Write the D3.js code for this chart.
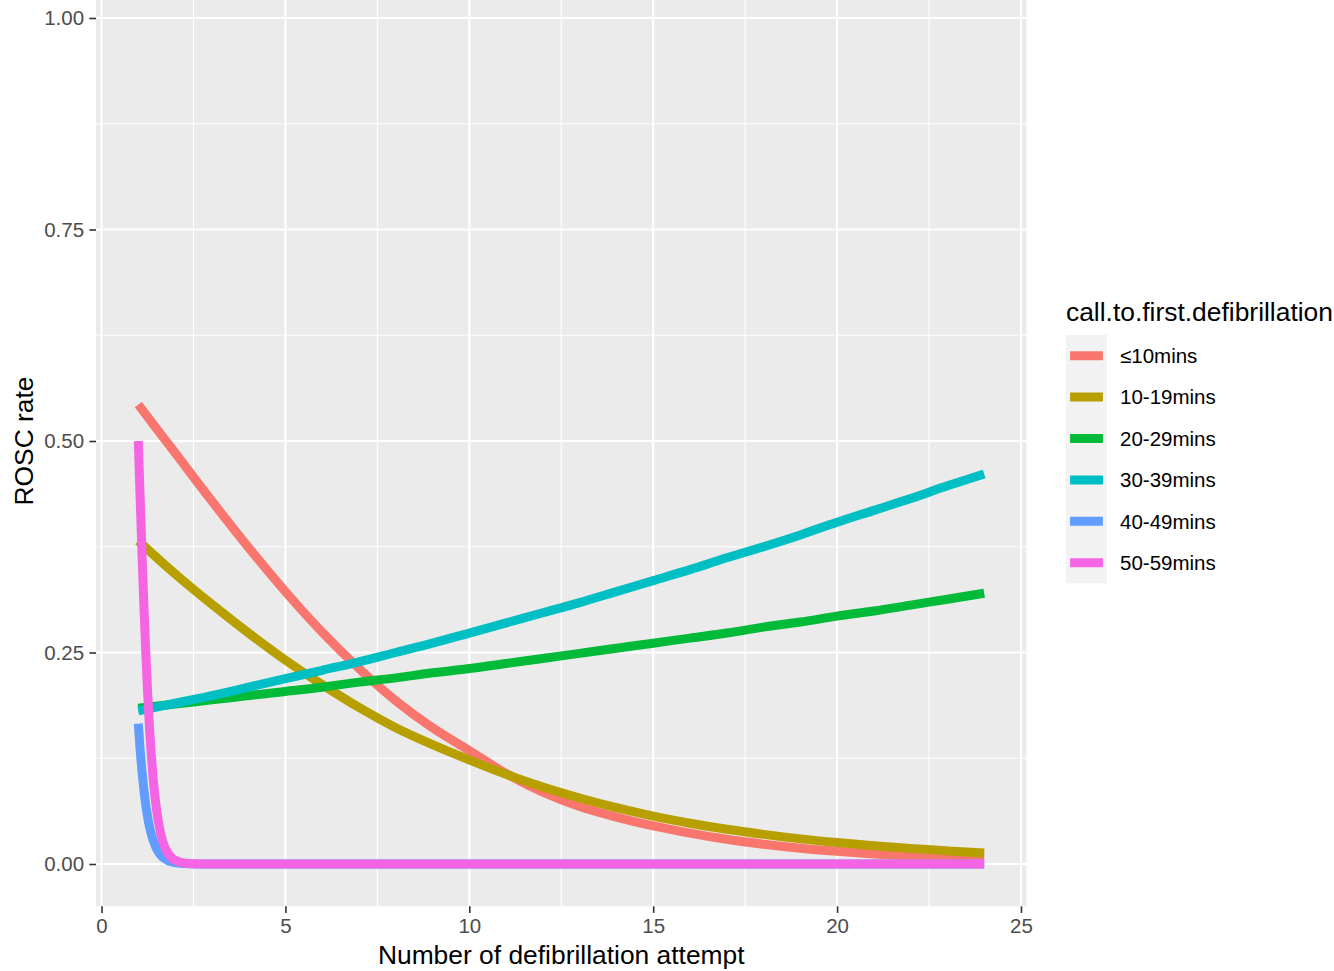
<!DOCTYPE html>
<html>
<head>
<meta charset="utf-8">
<script src="https://cdn.jsdelivr.net/npm/d3@7"></script>
<style>
  html, body { margin: 0; padding: 0; background: #ffffff; }
  svg { display: block; font-family: "Liberation Sans", Arial, Helvetica, sans-serif; }
</style>
</head>
<body>
<svg id="chart" width="1334" height="971"></svg>
<script>
// Defibrillation attempt number (x) for the smoothly varying groups
const attempts = [1, 2, 3, 4, 5, 6, 7, 8, 9, 10, 11, 12, 13, 14, 15, 16, 17, 18, 19, 20, 21, 22, 23, 24];

// Denser attempt grid for the groups that collapse between attempts 1 and 2
const attemptsFine = [1, 1.05, 1.1, 1.15, 1.2, 1.25, 1.3, 1.35, 1.4, 1.5, 1.6, 1.7, 1.8, 1.9, 2, 2.25, 2.5, 3,
  4, 5, 6, 7, 8, 9, 10, 11, 12, 13, 14, 15, 16, 17, 18, 19, 20, 21, 22, 23, 24];

// Predicted ROSC rate by call-to-first-defibrillation interval
const roscUpTo10 = [0.543, 0.486, 0.429, 0.374, 0.322, 0.274, 0.231, 0.193, 0.161, 0.134, 0.107, 0.085, 0.068,
  0.0555, 0.0450, 0.0365, 0.0292, 0.0234, 0.0187, 0.0150, 0.0119, 0.0095, 0.0076, 0.0061];
const rosc10to19 = [0.382, 0.343, 0.307, 0.273, 0.241, 0.212, 0.185, 0.161, 0.141, 0.123, 0.106, 0.091, 0.078,
  0.0665, 0.0566, 0.0482, 0.0410, 0.0350, 0.0297, 0.0253, 0.0215, 0.0182, 0.0155, 0.0131];
const rosc20to29 = [0.184, 0.189, 0.194, 0.199, 0.204, 0.209, 0.215, 0.220, 0.226, 0.231, 0.237, 0.243, 0.249,
  0.255, 0.261, 0.267, 0.273, 0.280, 0.286, 0.293, 0.299, 0.306, 0.313, 0.320];
const rosc30to39 = [0.181, 0.190, 0.199, 0.209, 0.219, 0.229, 0.239, 0.250, 0.261, 0.273, 0.285, 0.297, 0.309,
  0.322, 0.335, 0.348, 0.362, 0.375, 0.389, 0.404, 0.418, 0.432, 0.447, 0.461];
const rosc40to49 = [0.166, 0.135, 0.110, 0.0884, 0.0708, 0.0565, 0.0450, 0.0358, 0.0284, 0.0178, 0.0110, 0.0069,
  0.0043, 0.0026, 0.0016, 0.0005, 0.0001, 0,
  0, 0, 0, 0, 0, 0, 0, 0, 0, 0, 0, 0, 0, 0, 0, 0, 0, 0, 0, 0, 0];
const rosc50to59 = [0.500, 0.433, 0.368, 0.308, 0.254, 0.206, 0.165, 0.131, 0.103, 0.063, 0.0377, 0.0223,
  0.0131, 0.0077, 0.0045, 0.0012, 0.0003, 0,
  0, 0, 0, 0, 0, 0, 0, 0, 0, 0, 0, 0, 0, 0, 0, 0, 0, 0, 0, 0, 0];

const groupLabels = ["\u226410mins", "10-19mins", "20-29mins", "30-39mins", "40-49mins", "50-59mins"];
const groupColors = ["#F8766D", "#B79F00", "#00BA38", "#00BFC4", "#619CFF", "#F564E3"];

const xTicks = [0, 5, 10, 15, 20, 25];
const yTicks = [0, 0.25, 0.5, 0.75, 1];
const xMinor = [2.5, 7.5, 12.5, 17.5, 22.5];
const yMinor = [0.125, 0.375, 0.625, 0.875];

const legendTitle = "call.to.first.defibrillation";
const xTitle = "Number of defibrillation attempt";
const yTitle = "ROSC rate";

// Smooth groups use a Catmull-Rom spline; the steep ones a monotone spline (no overshoot below 0)
const series = [
  { label: groupLabels[0], color: groupColors[0], xs: attempts, ys: roscUpTo10, curve: d3.curveCatmullRom },
  { label: groupLabels[1], color: groupColors[1], xs: attempts, ys: rosc10to19, curve: d3.curveCatmullRom },
  { label: groupLabels[2], color: groupColors[2], xs: attempts, ys: rosc20to29, curve: d3.curveCatmullRom },
  { label: groupLabels[3], color: groupColors[3], xs: attempts, ys: rosc30to39, curve: d3.curveCatmullRom },
  { label: groupLabels[4], color: groupColors[4], xs: attemptsFine, ys: rosc40to49, curve: d3.curveMonotoneX },
  { label: groupLabels[5], color: groupColors[5], xs: attemptsFine, ys: rosc50to59, curve: d3.curveMonotoneX }
];

const svg = d3.select("#chart");
const panel = { left: 96, right: 1026.5, top: -24.3, bottom: 906.3 };

// 5% expansion of the attempt range; fixed [0, 1] rate limits, also expanded 5%
const xExt = d3.extent(attempts);
const xPad = (xExt[1] - xExt[0]) * 0.05;
const x = d3.scaleLinear().domain([xExt[0] - xPad, xExt[1] + xPad]).range([panel.left, panel.right]);
const y = d3.scaleLinear().domain([-0.05, 1.05]).range([panel.bottom, panel.top]);

svg.append("defs").append("clipPath").attr("id", "panel-clip")
  .append("rect")
  .attr("x", panel.left).attr("y", panel.top)
  .attr("width", panel.right - panel.left).attr("height", panel.bottom - panel.top);

// Panel background
svg.append("rect")
  .attr("x", panel.left).attr("y", panel.top)
  .attr("width", panel.right - panel.left).attr("height", panel.bottom - panel.top)
  .attr("fill", "#EBEBEB");

const grid = svg.append("g");
// Minor grid
grid.selectAll("line.vminor").data(xMinor).join("line")
  .attr("x1", d => x(d)).attr("x2", d => x(d))
  .attr("y1", panel.top).attr("y2", panel.bottom)
  .attr("stroke", "#ffffff").attr("stroke-width", 1.1);
grid.selectAll("line.hminor").data(yMinor).join("line")
  .attr("y1", d => y(d)).attr("y2", d => y(d))
  .attr("x1", panel.left).attr("x2", panel.right)
  .attr("stroke", "#ffffff").attr("stroke-width", 1.1);
// Major grid
grid.selectAll("line.vmajor").data(xTicks).join("line")
  .attr("x1", d => x(d)).attr("x2", d => x(d))
  .attr("y1", panel.top).attr("y2", panel.bottom)
  .attr("stroke", "#ffffff").attr("stroke-width", 2.2);
grid.selectAll("line.hmajor").data(yTicks).join("line")
  .attr("y1", d => y(d)).attr("y2", d => y(d))
  .attr("x1", panel.left).attr("x2", panel.right)
  .attr("stroke", "#ffffff").attr("stroke-width", 2.2);

// Curves
const curves = svg.append("g").attr("clip-path", "url(#panel-clip)");
series.forEach(s => {
  const pts = s.xs.map((v, i) => [v, s.ys[i]]);
  const lineGen = d3.line()
    .x(d => x(d[0]))
    .y(d => y(d[1]))
    .curve(s.curve);
  curves.append("path")
    .attr("d", lineGen(pts))
    .attr("fill", "none")
    .attr("stroke", s.color)
    .attr("stroke-width", 9)
    .attr("stroke-linecap", "butt")
    .attr("stroke-linejoin", "round");
});

// Axes
const tickLen = 6.6, tickPad = 5.3;
const xAxis = svg.append("g")
  .attr("transform", `translate(0,${panel.bottom})`)
  .call(d3.axisBottom(x).tickValues(xTicks).tickFormat(d3.format("d"))
    .tickSizeInner(tickLen).tickSizeOuter(0).tickPadding(tickPad));
const yAxis = svg.append("g")
  .attr("transform", `translate(${panel.left},0)`)
  .call(d3.axisLeft(y).tickValues(yTicks).tickFormat(d3.format(".2f"))
    .tickSizeInner(tickLen).tickSizeOuter(0).tickPadding(tickPad));

[xAxis, yAxis].forEach(a => {
  a.select(".domain").remove();
  a.selectAll(".tick line").attr("stroke", "#333333").attr("stroke-width", 1.6);
  a.selectAll(".tick text")
    .attr("fill", "#4D4D4D")
    .style("font-size", "20.5px")
    .style("font-family", "'Liberation Sans', Arial, sans-serif");
});

// Axis titles
svg.append("text")
  .attr("x", (panel.left + panel.right) / 2)
  .attr("y", 964)
  .attr("text-anchor", "middle")
  .attr("fill", "#000000")
  .style("font-size", "26.4px")
  .text(xTitle);

svg.append("text")
  .attr("transform", `translate(33,${(panel.top + panel.bottom) / 2}) rotate(-90)`)
  .attr("text-anchor", "middle")
  .attr("fill", "#000000")
  .style("font-size", "26.4px")
  .text(yTitle);

// Legend
const legend = svg.append("g").attr("transform", "translate(1066,0)");
legend.append("text")
  .attr("x", 0).attr("y", 320.5)
  .attr("fill", "#000000")
  .style("font-size", "26.4px")
  .text(legendTitle);

const keyW = 41, keyH = 41.4, keyTop = 335;
legend.append("rect")
  .attr("x", 0).attr("y", keyTop)
  .attr("width", keyW).attr("height", keyH * series.length)
  .attr("fill", "#F2F2F2");

const items = legend.selectAll("g.item").data(series).join("g")
  .attr("transform", (d, i) => `translate(0,${keyTop + keyH * (i + 0.5)})`);
items.append("line")
  .attr("x1", keyW * 0.1).attr("x2", keyW * 0.9)
  .attr("y1", 0).attr("y2", 0)
  .attr("stroke", d => d.color)
  .attr("stroke-width", 9)
  .attr("stroke-linecap", "butt");
items.append("text")
  .attr("x", 54).attr("y", 0).attr("dy", "0.36em")
  .attr("fill", "#000000")
  .style("font-size", "20.5px")
  .text(d => d.label);
</script>
</body>
</html>
